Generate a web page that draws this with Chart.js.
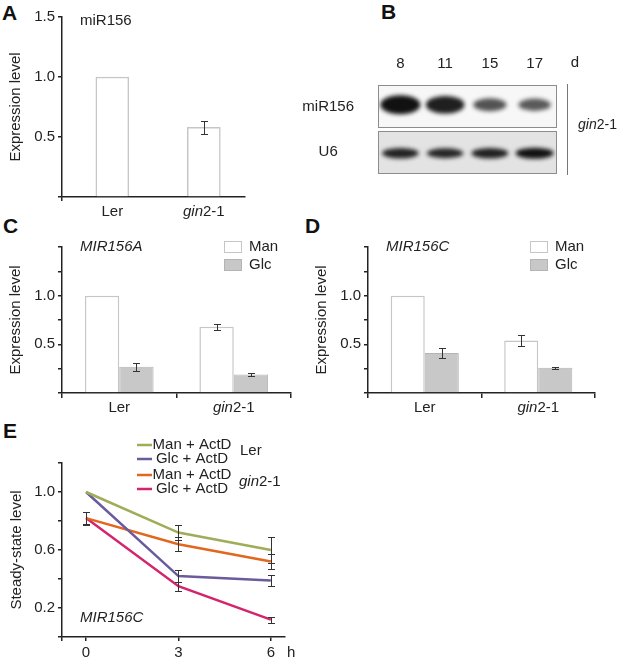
<!DOCTYPE html>
<html>
<head>
<meta charset="utf-8">
<script src="https://cdn.jsdelivr.net/npm/chart.js@4.4.1/dist/chart.umd.min.js"></script>
<style>
  body { margin: 0; background: #fff; width: 617px; height: 660px; position: relative; overflow: hidden; }
  canvas { position: absolute; }
  .tag { position: absolute; font: bold 21px "Liberation Sans", Arial, sans-serif; line-height: 21px; color: #111; }
</style>
</head>
<body>
<div class="tag" style="left:2px;top:2px">A</div>
<div class="tag" style="left:381px;top:1px">B</div>
<div class="tag" style="left:3px;top:215px">C</div>
<div class="tag" style="left:305px;top:215px">D</div>
<div class="tag" style="left:3px;top:420px">E</div>

<canvas id="chA" width="300" height="225" style="left:0;top:0"></canvas>
<canvas id="chB" width="317" height="180" style="left:300px;top:20px"></canvas>
<canvas id="chC" width="310" height="195" style="left:0;top:225px"></canvas>
<canvas id="chD" width="311" height="195" style="left:306px;top:225px"></canvas>
<canvas id="chE" width="320" height="235" style="left:0;top:425px"></canvas>

<script>
// A: miR156 in Ler / gin2-1
const genotypes = ['Ler', 'gin2-1'];
const miR156Level = [1.0, 0.58];
const miR156Err = [null, 0.055];

// B: blot, days and relative band strength
const blotDays = ['8', '11', '15', '17'];
const blotProbes = ['miR156', 'U6'];
const miR156Signal = [1.0, 0.92, 0.62, 0.58];
const u6Signal = [0.92, 0.9, 0.93, 1.0];

// C: MIR156A
const mir156aMan = [1.0, 0.68];
const mir156aManErr = [null, 0.03];
const mir156aGlc = [0.27, 0.19];
const mir156aGlcErr = [0.04, 0.02];

// D: MIR156C
const mir156cMan = [1.0, 0.54];
const mir156cManErr = [null, 0.06];
const mir156cGlc = [0.41, 0.26];
const mir156cGlcErr = [0.05, 0.01];

// E: steady-state level after ActD
const hours = [0, 3, 6];
const lerManActD = [1.0, 0.72, 0.60];
const lerManActDErr = [null, 0.05, 0.09];
const lerGlcActD = [1.0, 0.42, 0.39];
const lerGlcActDErr = [null, 0.04, 0.04];
const ginManActD = [0.82, 0.64, 0.52];
const ginManActDErr = [0.045, 0.05, 0.05];
const ginGlcActD = [0.82, 0.35, 0.12];
const ginGlcActDErr = [0.04, 0.03, 0.02];

const FONT = '"Liberation Sans", Arial, Helvetica, sans-serif';
Chart.defaults.font.family = FONT;
Chart.defaults.font.size = 15;
Chart.defaults.color = '#222';
Chart.defaults.animation = false;
Chart.defaults.responsive = false;
Chart.defaults.plugins.legend.display = false;
Chart.defaults.plugins.tooltip.enabled = false;

const axisGrid = { drawOnChartArea: false, tickLength: 4, color: '#222', lineWidth: 1.5, offset: false };
const axisBorder = { color: '#222', width: 1.5 };

// "gin2-1" -> italic gene name, upright allele number
function labelParts(text) {
  const m = /^(gin)(.*)$/.exec(text);
  return m ? [[m[1], 'italic'], [m[2], 'normal']] : [[text, 'normal']];
}

function drawLabel(ctx, text, x, y, align, size, style) {
  const parts = style ? [[text, style]] : labelParts(text);
  ctx.save();
  let w = 0;
  parts.forEach(p => { ctx.font = p[1] + ' ' + size + 'px ' + FONT; w += ctx.measureText(p[0]).width; });
  let cx = align === 'center' ? x - w / 2 : align === 'right' ? x - w : x;
  ctx.textAlign = 'left';
  ctx.textBaseline = 'middle';
  ctx.fillStyle = '#222';
  parts.forEach(p => {
    ctx.font = p[1] + ' ' + size + 'px ' + FONT;
    ctx.fillText(p[0], cx, y);
    cx += ctx.measureText(p[0]).width;
  });
  ctx.restore();
}

const errorBars = {
  id: 'errorBars',
  afterDatasetsDraw(chart) {
    const ctx = chart.ctx, ys = chart.scales.y;
    ctx.save();
    ctx.strokeStyle = '#333';
    ctx.lineWidth = 1;
    chart.data.datasets.forEach((ds, i) => {
      if (!ds.errors) return;
      chart.getDatasetMeta(i).data.forEach((el, j) => {
        const e = ds.errors[j];
        if (e == null) return;
        const d = ds.data[j];
        const v = typeof d === 'object' ? d.y : d;
        const t = Math.round(ys.getPixelForValue(v + e)) + 0.5;
        const b = Math.round(ys.getPixelForValue(v - e)) + 0.5;
        const x = Math.round(el.x) + 0.5;
        ctx.beginPath();
        ctx.moveTo(x, t); ctx.lineTo(x, b);
        ctx.moveTo(x - 3.5, t); ctx.lineTo(x + 3.5, t);
        ctx.moveTo(x - 3.5, b); ctx.lineTo(x + 3.5, b);
        ctx.stroke();
      });
    });
    ctx.restore();
  }
};

const groupLabels = {
  id: 'groupLabels',
  afterDraw(chart, args, opts) {
    const xs = chart.scales.x;
    (opts.labels || []).forEach((t, i) =>
      drawLabel(chart.ctx, t, xs.getPixelForValue(i), chart.chartArea.bottom + 15, 'center', 15));
  }
};

const notes = {
  id: 'notes',
  afterDraw(chart, args, opts) {
    const a = chart.chartArea;
    (opts.items || []).forEach(n =>
      drawLabel(chart.ctx, n.text, a.left + n.dx, a.top + n.dy, n.align || 'left', n.size || 15, n.style));
  }
};

const barLegend = {
  id: 'barLegend',
  afterDraw(chart) {
    const ctx = chart.ctx, a = chart.chartArea;
    chart.data.datasets.forEach((ds, i) => {
      const bx = a.left + 162, by = a.top - 6 + i * 18;
      ctx.fillStyle = ds.backgroundColor;
      ctx.fillRect(bx, by, 18, 12);
      ctx.strokeStyle = ds.borderColor;
      ctx.lineWidth = 1;
      ctx.strokeRect(bx + 0.5, by + 0.5, 17, 11);
      drawLabel(ctx, ds.label, bx + 25, by + 6, 'left', 15);
    });
  }
};

const lineLegend = {
  id: 'lineLegend',
  afterDraw(chart) {
    const ctx = chart.ctx, a = chart.chartArea;
    const rows = [-18, -4, 12, 26];
    chart.data.datasets.forEach((ds, i) => {
      const y = a.top + rows[i];
      ctx.save();
      ctx.strokeStyle = ds.borderColor;
      ctx.lineWidth = 2.5;
      ctx.beginPath(); ctx.moveTo(a.left + 75, y); ctx.lineTo(a.left + 90, y); ctx.stroke();
      ctx.restore();
      drawLabel(ctx, ds.label, a.left + 130, y, 'center', 15);
    });
    drawLabel(ctx, genotypes[0], a.left + 178, a.top - 12, 'left', 15);
    drawLabel(ctx, genotypes[1], a.left + 177, a.top + 19, 'left', 15);
  }
};

const blot = {
  id: 'blot',
  afterDraw(chart) {
    const ctx = chart.ctx, a = chart.chartArea, xs = chart.scales.x, ys = chart.scales.y;
    const rowH = (a.bottom - a.top) / blotProbes.length;
    [miR156Signal, u6Signal].forEach((sig, r) => {
      const cy = ys.getPixelForValue(r);
      const top = Math.round(cy - rowH / 2) + 1, h = Math.round(rowH) - 3;
      ctx.save();
      ctx.fillStyle = r === 0 ? '#f7f7f7' : '#e3e3e3';
      ctx.fillRect(a.left, top, a.right - a.left, h);
      ctx.strokeStyle = '#8c8c8c';
      ctx.lineWidth = 1;
      ctx.strokeRect(a.left + 0.5, top + 0.5, a.right - a.left - 1, h - 1);
      ctx.beginPath();
      ctx.rect(a.left + 1, top + 1, a.right - a.left - 2, h - 2);
      ctx.clip();
      ctx.filter = 'blur(2px)';
      ctx.fillStyle = '#111';
      sig.forEach((s, j) => {
        const cx = xs.getPixelForValue(j);
        const rx = r === 0 ? 11 + 9 * s : 11 + 8 * s;
        const ry = r === 0 ? 1.5 + 8 * s : 1.5 + 4 * s;
        ctx.globalAlpha = r === 0 ? 0.25 + 0.75 * s : s;
        ctx.beginPath();
        ctx.ellipse(cx, cy + (r === 0 ? -2 : 1), rx, ry, 0, 0, Math.PI * 2);
        ctx.fill();
      });
      ctx.restore();
    });
    ctx.save();
    ctx.strokeStyle = '#777';
    ctx.lineWidth = 1;
    ctx.beginPath();
    ctx.moveTo(a.right + 10.5, a.top); ctx.lineTo(a.right + 10.5, a.bottom);
    ctx.stroke();
    ctx.restore();
    drawLabel(ctx, 'd', a.right + 18, a.top - 21, 'center', 15);
    drawLabel(ctx, genotypes[1], a.right + 21, (a.top + a.bottom) / 2 - 4, 'left', 14);
  }
};

function yTitle(text, pad) {
  return { display: true, text: text, font: { size: 15 }, color: '#222', padding: { top: pad, bottom: 0 } };
}

// ---------- A ----------
new Chart(document.getElementById('chA'), {
  type: 'bar',
  data: {
    datasets: [{
      data: genotypes.map((g, i) => ({ x: i, y: miR156Level[i] })),
      errors: miR156Err,
      backgroundColor: '#fff',
      borderColor: '#c6c6c6',
      borderWidth: 1.5,
      barThickness: 33
    }]
  },
  options: {
    layout: { padding: { top: 17, right: 55, left: 0, bottom: 0 } },
    scales: {
      x: {
        type: 'linear', min: -0.55, max: 1.45, offset: false,
        afterBuildTicks: s => { s.ticks = [{ value: -0.55 }]; },
        ticks: { display: false },
        grid: axisGrid, border: axisBorder,
        afterFit: s => { s.height = 28; }
      },
      y: {
        min: 0, max: 1.5,
        ticks: { stepSize: 0.5, padding: 3, callback: v => v ? v.toFixed(1) : '' },
        grid: axisGrid, border: axisBorder,
        title: yTitle('Expression level', 7),
        afterFit: s => { s.width = 62; }
      }
    },
    plugins: {
      groupLabels: { labels: genotypes },
      notes: { items: [{ text: 'miR156', dx: 18, dy: 4, style: 'normal' }] }
    }
  },
  plugins: [errorBars, groupLabels, notes]
});

// ---------- B ----------
new Chart(document.getElementById('chB'), {
  type: 'bar',
  data: { labels: blotDays, datasets: [] },
  options: {
    layout: { padding: { top: 0, right: 60, left: 0, bottom: 0 } },
    scales: {
      x: {
        position: 'top', offset: true,
        grid: { display: false }, border: { display: false },
        ticks: { padding: 3, font: { size: 15 } },
        afterFit: s => { s.height = 64; }
      },
      y: {
        type: 'category', labels: blotProbes, offset: true,
        grid: { display: false }, border: { display: false },
        ticks: { crossAlign: 'center', padding: 16, font: { size: 15 } },
        afterFit: s => { s.width = 78; }
      }
    }
  },
  plugins: [blot]
});

// ---------- C and D ----------
function groupedBars(id, title, man, manErr, glc, glcErr, padRight) {
  new Chart(document.getElementById(id), {
    type: 'bar',
    data: {
      labels: genotypes,
      datasets: [
        { label: 'Man', data: man, errors: manErr, backgroundColor: '#ffffff', borderColor: '#c6c6c6', borderWidth: 1.5 },
        { label: 'Glc', data: glc, errors: glcErr, backgroundColor: '#c8c8c8', borderColor: '#b4b4b4', borderWidth: 1 }
      ]
    },
    options: {
      layout: { padding: { top: 22, right: padRight, left: 0, bottom: 0 } },
      datasets: { bar: { categoryPercentage: 0.6, barPercentage: 1.0 } },
      scales: {
        x: {
          offset: true,
          ticks: { display: false },
          grid: Object.assign({}, axisGrid, { offset: true, tickLength: 5,
            color: c => c.index >= genotypes.length ? 'rgba(0,0,0,0)' : '#222' }),
          border: axisBorder,
          afterFit: s => { s.height = 27; }
        },
        y: {
          min: 0, max: 1.5,
          ticks: { stepSize: 0.25, padding: 3, callback: v => (v === 0.5 || v === 1) ? v.toFixed(1) : '' },
          grid: axisGrid, border: axisBorder,
          title: yTitle('Expression level', 7),
          afterFit: s => { s.width = 62; }
        }
      },
      plugins: {
        groupLabels: { labels: genotypes },
        notes: { items: [{ text: title, dx: 18, dy: 0, style: 'italic' }] }
      }
    },
    plugins: [errorBars, groupLabels, notes, barLegend]
  });
}
groupedBars('chC', 'MIR156A', mir156aMan, mir156aManErr, mir156aGlc, mir156aGlcErr, 19);
groupedBars('chD', 'MIR156C', mir156cMan, mir156cManErr, mir156cGlc, mir156cGlcErr, 22);

// ---------- E ----------
function series(label, vals, errs, color) {
  return {
    label: label,
    data: hours.map((h, i) => ({ x: h, y: vals[i] })),
    errors: errs,
    borderColor: color,
    backgroundColor: color,
    borderWidth: 2.5,
    pointRadius: 0,
    tension: 0
  };
}
const isLabeled = v => [0.2, 0.6, 1.0].some(t => Math.abs(v - t) < 1e-6);

new Chart(document.getElementById('chE'), {
  type: 'line',
  data: {
    datasets: [
      series('Man + ActD', lerManActD, lerManActDErr, '#9fac58'),
      series('Glc + ActD', lerGlcActD, lerGlcActDErr, '#6a5b9c'),
      series('Man + ActD', ginManActD, ginManActDErr, '#e2661e'),
      series('Glc + ActD', ginGlcActD, ginGlcActDErr, '#d4246c')
    ]
  },
  options: {
    layout: { padding: { top: 38, right: 35, left: 0, bottom: 0 } },
    scales: {
      x: {
        type: 'linear', min: -0.78, max: 6.46, offset: false,
        afterBuildTicks: s => { s.ticks = [{ value: -0.78 }].concat(hours.map(h => ({ value: h }))); },
        ticks: { padding: 3, callback: v => v < 0 ? '' : String(v) },
        grid: axisGrid, border: axisBorder,
        afterFit: s => { s.height = 23; }
      },
      y: {
        min: 0, max: 1.2,
        ticks: { stepSize: 0.2, padding: 3, callback: v => isLabeled(v) ? v.toFixed(1) : '' },
        grid: axisGrid, border: axisBorder,
        title: yTitle('Steady-state level', 8),
        afterFit: s => { s.width = 62; }
      }
    },
    plugins: {
      notes: { items: [
        { text: 'MIR156C', dx: 18, dy: 155, style: 'italic' },
        { text: 'h', dx: 225, dy: 190, style: 'normal' }
      ] }
    }
  },
  plugins: [errorBars, notes, lineLegend]
});
</script>
</body>
</html>
